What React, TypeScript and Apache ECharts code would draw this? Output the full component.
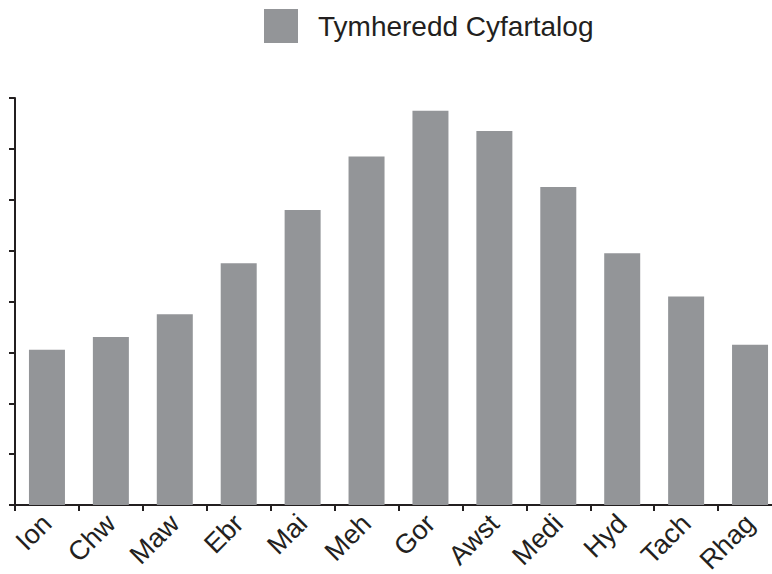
import React, { useEffect, useRef } from "react";
import * as echarts from "echarts";

const categories = ["Ion", "Chw", "Maw", "Ebr", "Mai", "Meh", "Gor", "Awst", "Medi", "Hyd", "Tach", "Rhag"];
const seriesName = "Tymheredd Cyfartalog";
const values = [6.1, 6.6, 7.5, 9.5, 11.6, 13.7, 15.5, 14.7, 12.5, 9.9, 8.2, 6.3];
const yMin = 0;
const yMax = 16;
const yInterval = 2;

export default function App() {
  const ref = useRef<HTMLDivElement>(null);
  useEffect(() => {
    if (!ref.current) return;
    const chart = echarts.init(ref.current, null, { renderer: "svg" });
    const font = "'Liberation Sans', Arial, sans-serif";
    chart.setOption({
      animation: false,
      backgroundColor: "#ffffff",
      legend: {
        data: [seriesName],
        left: 264,
        top: 9,
        itemWidth: 34,
        itemHeight: 34,
        itemGap: 20,
        icon: "rect",
        textStyle: { fontFamily: font, fontSize: 28, color: "#231f20", padding: [0, 0, 0, 15] },
        padding: 0,
      },
      grid: {
        left: 15,
        top: 98,
        width: 767,
        bottom: 69,
        containLabel: false,
        outerBoundsMode: "none",
      },
      xAxis: {
        type: "category",
        data: categories,
        boundaryGap: true,
        axisLine: { show: true, lineStyle: { color: "#231f20", width: 2 } },
        axisTick: { show: true, alignWithLabel: false, length: 6, lineStyle: { color: "#231f20", width: 2 } },
        axisLabel: {
          rotate: 45,
          interval: 0,
          margin: 14,
          fontFamily: font,
          fontSize: 27,
          color: "#231f20",
        },
      },
      yAxis: {
        type: "value",
        min: yMin,
        max: yMax,
        interval: yInterval,
        axisLine: { show: true, lineStyle: { color: "#231f20", width: 2 } },
        axisTick: { show: true, length: 6, lineStyle: { color: "#231f20", width: 2 } },
        axisLabel: { show: false },
        splitLine: { show: false },
      },
      series: [
        {
          name: seriesName,
          type: "bar",
          data: values,
          barWidth: 36,
          itemStyle: { color: "#939598" },
        },
      ],
    });
    return () => chart.dispose();
  }, []);
  return (
    <div
      ref={ref}
      style={{ position: "absolute", left: 0, top: 0, width: 772, height: 574, overflow: "hidden" }}
    />
  );
}
